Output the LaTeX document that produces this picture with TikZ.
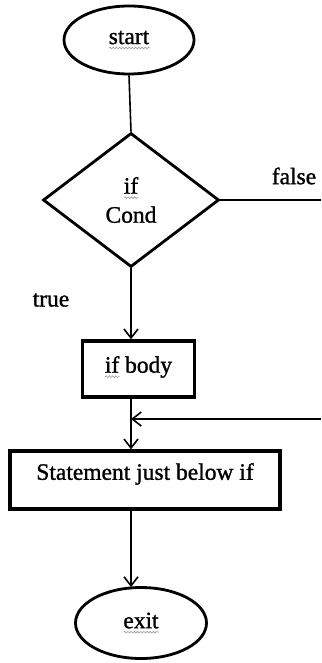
\documentclass[tikz,border=0pt]{standalone}
\usepackage{fontspec}
\setmainfont{Liberation Serif}[FakeBold=1.2]
\usetikzlibrary{shapes.geometric,arrows.meta,decorations.pathmorphing}
\newlength\wavew
\newcommand\grwave[1]{\settowidth\wavew{#1}\rlap{\tikz[baseline=0pt]{\draw[gray!80, line width=0.6pt, decorate, decoration={snake,amplitude=0.9pt,segment length=3.2pt}] (0pt,-4pt) -- (\wavew,-4pt);}}#1}
\tikzset{
  every node/.style={font=\fontsize{23.5}{26}\selectfont},
  term/.style={ellipse, draw, line width=2.8pt, inner sep=0pt},
  decide/.style={diamond, draw, line width=2.8pt, inner sep=0pt, align=center},
  procbox/.style={rectangle, draw, line width=3.4pt, inner sep=0pt},
  conn/.style={line width=1.6pt},
  arr/.style={conn, -{Straight Barb[length=9pt,width=14pt,line width=1.6pt]}},
  lbl/.style={inner sep=0pt}
}
\begin{document}
\begin{tikzpicture}[x=1pt,y=1pt]
\useasboundingbox (0,0) rectangle (321,-663);
\coordinate (spine) at (131,0);
\node[term, minimum width=130pt, minimum height=68pt] (start) at (129,-40) {\grwave{start}};
\node[decide, minimum width=176pt, minimum height=134pt] (cond) at (131,-200) {\grwave{if}\\[3pt]Cond};
\node[procbox, minimum width=112pt, minimum height=56pt] (ifbody) at (138.5,-369) {\raisebox{2pt}[\height][\depth]{\grwave{if} body}};
\node[procbox, minimum width=270pt, minimum height=58pt] (stmt) at (145,-480) {\raisebox{6pt}[\height][\depth]{Statement just below if}};
\node[term, minimum width=131pt, minimum height=71pt] (exit) at (141,-623) {\grwave{exit}};
\node[lbl] (false) at (294,-176) {false};
\node[lbl] (true) at (51,-300) {true};
\coordinate (falseend) at (321,-200);
\coordinate (retstart) at (321,-419);
\draw[conn] (start.south) -- (cond.north);
\draw[conn] (cond.east) -- (falseend);
\draw[arr] (cond.south) -- (spine |- ifbody.north);
\draw[arr] (spine |- ifbody.south) -- (spine |- stmt.north);
\draw[arr] (retstart) -- (spine |- retstart);
\draw[arr] (spine |- stmt.south) -- ([yshift=-1pt]spine |- exit.north);
\end{tikzpicture}
\end{document}
